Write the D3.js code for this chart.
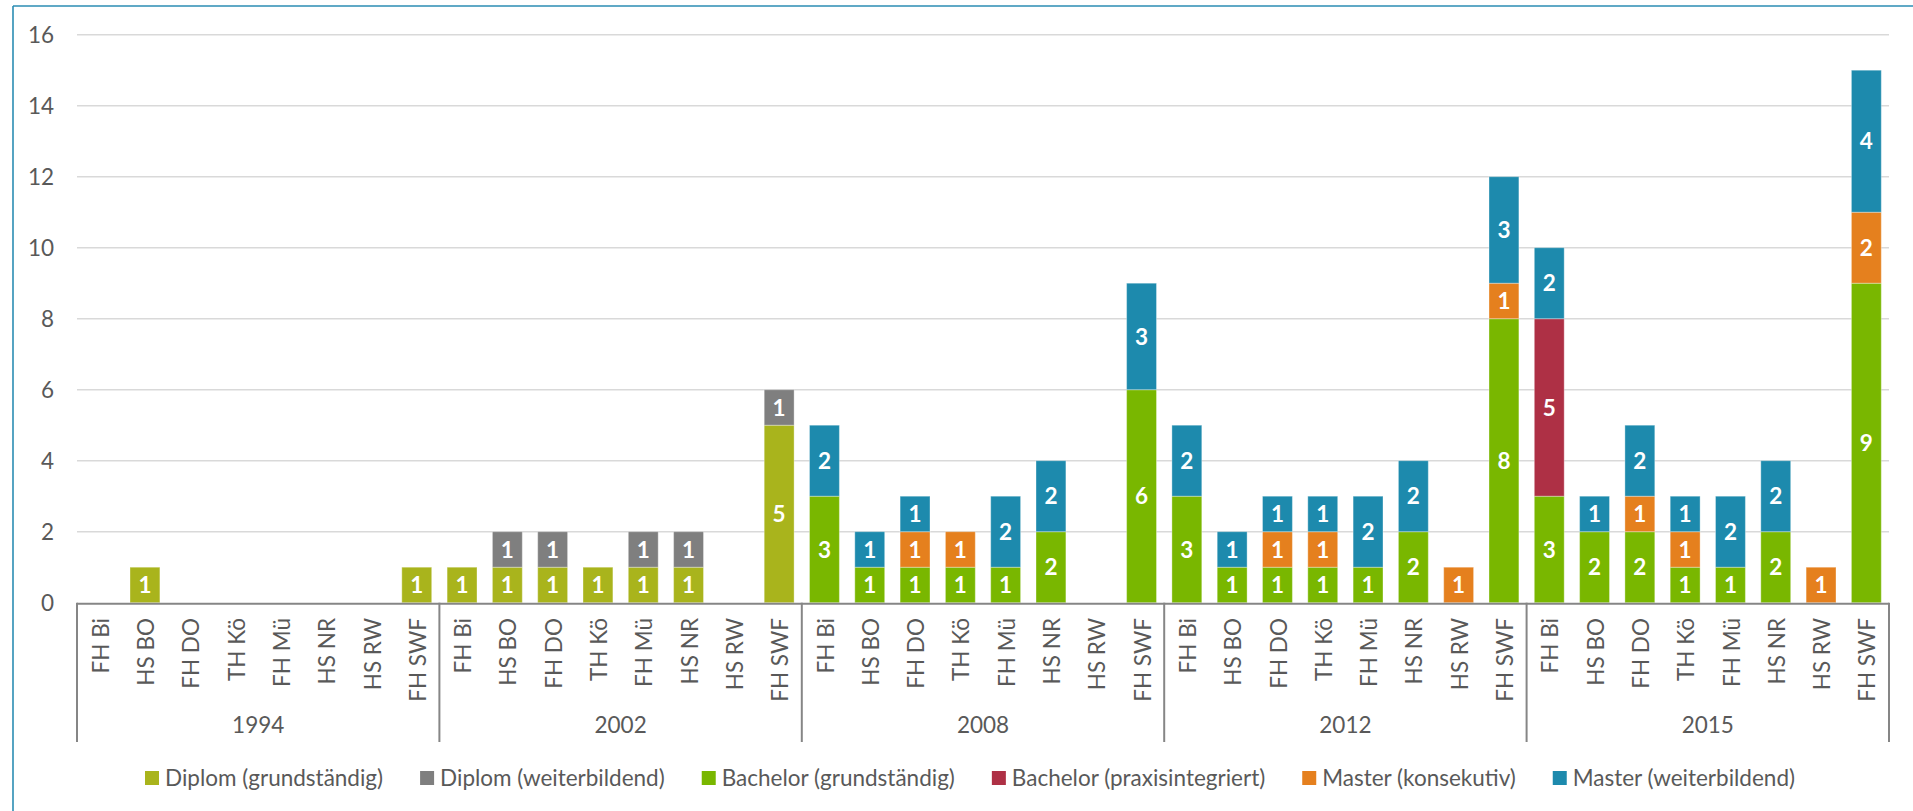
<!DOCTYPE html>
<html>
<head>
<meta charset="utf-8">
<script src="https://cdn.jsdelivr.net/npm/d3@7/dist/d3.min.js"></script>
<style>
  html, body { margin: 0; padding: 0; background: #fff; }
  svg { display: block; }
  text { font-family: Lato, "Open Sans", sans-serif; }
</style>
</head>
<body>
<svg id="chart" width="1913" height="811"></svg>
<script>
const years = ["1994", "2002", "2008", "2012", "2015"];
const schools = ["FH Bi", "HS BO", "FH DO", "TH Kö", "FH Mü", "HS NR", "HS RW", "FH SWF"];
const seriesNames = ["Diplom (grundständig)", "Diplom (weiterbildend)", "Bachelor (grundständig)",
  "Bachelor (praxisintegriert)", "Master (konsekutiv)", "Master (weiterbildend)"];
const seriesColors = ["#A9B41C", "#7F7F7F", "#79B700", "#AE3045", "#E5801E", "#1D8AAD"];
const yTicks = [0, 2, 4, 6, 8, 10, 12, 14, 16];

// values per series: one array per year, in school order
const diplomGrund = [
  [0,1,0,0,0,0,0,1], [1,1,1,1,1,1,0,5], [0,0,0,0,0,0,0,0], [0,0,0,0,0,0,0,0], [0,0,0,0,0,0,0,0]];
const diplomWeiter = [
  [0,0,0,0,0,0,0,0], [0,1,1,0,1,1,0,1], [0,0,0,0,0,0,0,0], [0,0,0,0,0,0,0,0], [0,0,0,0,0,0,0,0]];
const bachelorGrund = [
  [0,0,0,0,0,0,0,0], [0,0,0,0,0,0,0,0], [3,1,1,1,1,2,0,6], [3,1,1,1,1,2,0,8], [3,2,2,1,1,2,0,9]];
const bachelorPraxis = [
  [0,0,0,0,0,0,0,0], [0,0,0,0,0,0,0,0], [0,0,0,0,0,0,0,0], [0,0,0,0,0,0,0,0], [5,0,0,0,0,0,0,0]];
const masterKons = [
  [0,0,0,0,0,0,0,0], [0,0,0,0,0,0,0,0], [0,0,1,1,0,0,0,0], [0,0,1,1,0,0,1,1], [0,0,1,1,0,0,1,2]];
const masterWeiter = [
  [0,0,0,0,0,0,0,0], [0,0,0,0,0,0,0,0], [2,1,1,0,2,2,0,3], [2,1,1,1,2,2,0,3], [2,1,2,1,2,2,0,4]];
const seriesValues = [diplomGrund, diplomWeiter, bachelorGrund, bachelorPraxis, masterKons, masterWeiter];

const FS = "22.5px";

// build table
const rows = [];
years.forEach((yr, yi) => {
  schools.forEach((s, si) => {
    const row = { key: yr + "|" + s, year: yr, school: s };
    seriesNames.forEach((n, k) => { row[n] = seriesValues[k][yi][si]; });
    rows.push(row);
  });
});

const svg = d3.select("#chart");
const plotLeft = 77, plotRight = 1889, plotTop = 34.7, plotBottom = 602.7;

// frame (top and left edges)
svg.append("line").attr("x1", 13).attr("x2", 1913).attr("y1", 6).attr("y2", 6)
  .attr("stroke", "#2B8DB3").attr("stroke-width", 1.6);
svg.append("line").attr("x1", 13).attr("x2", 13).attr("y1", 6).attr("y2", 811)
  .attr("stroke", "#2B8DB3").attr("stroke-width", 1.6);

const x = d3.scaleBand().domain(rows.map(r => r.key)).range([plotLeft, plotRight])
  .paddingInner(0.34).paddingOuter(0.17);
const y = d3.scaleLinear().domain([0, 16]).range([plotBottom, plotTop]);

// gridlines
svg.append("g").selectAll("line").data(yTicks.filter(t => t > 0)).join("line")
  .attr("x1", plotLeft).attr("x2", plotRight)
  .attr("y1", d => y(d)).attr("y2", d => y(d))
  .attr("stroke", "#D9D9D9").attr("stroke-width", 1.5);

// y axis labels
const yAxis = d3.axisLeft(y).tickValues(yTicks).tickSize(0).tickPadding(0);
const yg = svg.append("g").attr("transform", `translate(${54},0)`).call(yAxis);
yg.select(".domain").remove();
yg.selectAll("text").attr("font-size", FS).attr("fill", "#595959")
  .style("font-family", "Lato, 'Open Sans', sans-serif").attr("dy", "0.36em");

// stacked bars
const stack = d3.stack().keys(seriesNames);
const stacked = stack(rows);
const color = d3.scaleOrdinal().domain(seriesNames).range(seriesColors);

const layers = svg.append("g").selectAll("g").data(stacked).join("g")
  .attr("fill", d => color(d.key));
layers.selectAll("rect").data(d => d.filter(s => s[1] - s[0] > 0)).join("rect")
  .attr("x", d => x(d.data.key))
  .attr("width", x.bandwidth())
  .attr("y", d => y(d[1]))
  .attr("height", d => y(d[0]) - y(d[1]))
  .attr("stroke", "rgba(255,255,255,0.35)").attr("stroke-width", 1);

// data labels
layers.selectAll("text").data(d => d.filter(s => s[1] - s[0] > 0)).join("text")
  .attr("x", d => x(d.data.key) + x.bandwidth() / 2)
  .attr("y", d => (y(d[0]) + y(d[1])) / 2)
  .attr("dy", "0.36em")
  .attr("text-anchor", "middle")
  .attr("fill", "#fff").attr("font-weight", "bold").attr("font-size", FS)
  .text(d => d[1] - d[0]);

// x axis baseline
svg.append("line").attr("x1", plotLeft).attr("x2", plotRight)
  .attr("y1", plotBottom + 1).attr("y2", plotBottom + 1)
  .attr("stroke", "#868686").attr("stroke-width", 2);

// group separators
const step = x.step();
const sepX = d3.range(years.length + 1).map(i => plotLeft + i * schools.length * step);
svg.append("g").selectAll("line").data(sepX).join("line")
  .attr("x1", d => d).attr("x2", d => d)
  .attr("y1", plotBottom).attr("y2", 742)
  .attr("stroke", "#868686").attr("stroke-width", 2);

// category labels (rotated)
svg.append("g").selectAll("text").data(rows).join("text")
  .attr("transform", d => `translate(${x(d.key) + x.bandwidth() / 2 + 1},${618}) rotate(-90)`)
  .attr("text-anchor", "end")
  .attr("dy", "0.36em")
  .attr("font-size", FS).attr("fill", "#595959")
  .text(d => d.school);

// year labels
svg.append("g").selectAll("text").data(years).join("text")
  .attr("x", (d, i) => (sepX[i] + sepX[i + 1]) / 2)
  .attr("y", 725).attr("dy", "0.36em")
  .attr("text-anchor", "middle")
  .attr("font-size", FS).attr("fill", "#595959")
  .text(d => d);

// legend
const legend = svg.append("g");
const items = legend.selectAll("g").data(seriesNames).join("g");
items.append("rect").attr("width", 14).attr("height", 14).attr("y", -7)
  .attr("fill", d => color(d));
items.append("text").attr("x", 20).attr("dy", "0.36em")
  .attr("font-size", FS).attr("fill", "#595959").text(d => d);
let cx = 0;
const positions = [];
items.each(function () {
  const w = d3.select(this).select("text").node().getComputedTextLength();
  positions.push(cx);
  cx += 20 + w + 37;
});
const totalW = cx - 37;
const startX = 970 - totalW / 2;
items.attr("transform", (d, i) => `translate(${startX + positions[i]},${778})`);
</script>
</body>
</html>
